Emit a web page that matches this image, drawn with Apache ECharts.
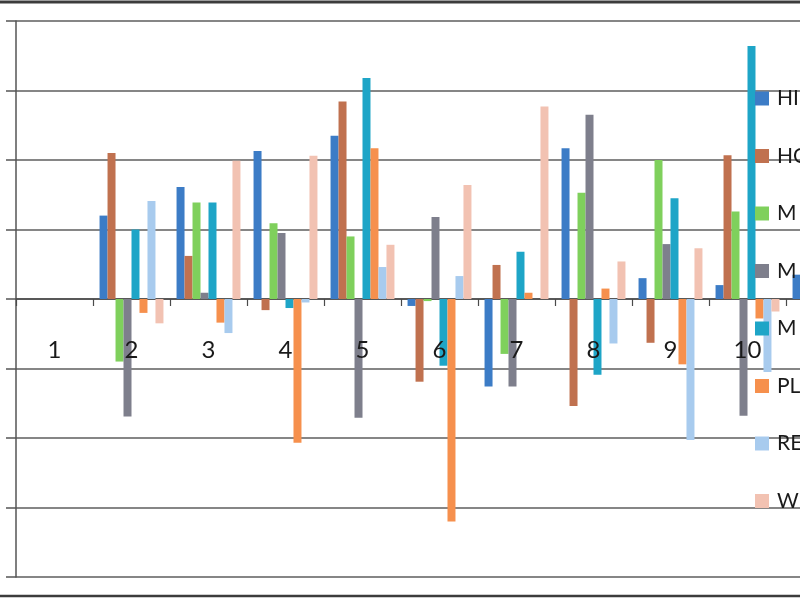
<!DOCTYPE html>
<html>
<head>
<meta charset="utf-8">
<script src="https://cdn.jsdelivr.net/npm/echarts@6/dist/echarts.min.js"></script>
<style>
html,body{margin:0;padding:0;background:#fff;}
#chart{width:800px;height:600px;}
</style>
</head>
<body>
<div id="chart"></div>
<script>
// Categories (11th is mostly outside the visible crop)
const categories = ['1','2','3','4','5','6','7','8','9','10','11'];
// Series names as visible (truncated) in legend; trailing spaces keep the M's distinct
const seriesNames = ['HI','HO','M','M ','M  ','PL','RE','W'];
// Values (units of one gridline)
const HI = [0, 1.2, 1.61, 2.13, 2.35, -0.1, -1.26, 2.17, 0.3, 0.2, 0.35];
const HO = [0, 2.1, 0.62, -0.16, 2.84, -1.19, 0.49, -1.54, -0.63, 2.07, 0];
const M1 = [0, -0.9, 1.39, 1.09, 0.9, -0.03, -0.79, 1.53, 2.0, 1.26, 0];
const M2 = [0, -1.69, 0.09, 0.95, -1.71, 1.18, -1.26, 2.65, 0.79, -1.68, 0];
const M3 = [0, 1.0, 1.39, -0.13, 3.18, -0.96, 0.68, -1.09, 1.45, 3.64, 0];
const PL = [0, -0.2, -0.34, -2.07, 2.17, -3.2, 0.09, 0.15, -0.94, -0.28, 0];
const RE = [0, 1.41, -0.49, -0.05, 0.46, 0.33, 0, -0.64, -2.03, -1.05, 0];
const W  = [0, -0.35, 1.99, 2.06, 0.78, 1.64, 2.77, 0.54, 0.73, -0.18, 0];
const seriesData = [HI, HO, M1, M2, M3, PL, RE, W];
const colors = ['#3c7cc6','#c0714f','#7fd05c','#7e7f8c','#1ea5c7','#f6904d','#a8cbee','#f2c2b2'];
const FONT = 'Lato, "Open Sans", sans-serif';

const chart = echarts.init(document.getElementById('chart'), null, {renderer:'canvas'});
chart.setOption({
  animation: false,
  backgroundColor: '#ffffff',
  color: colors,
  grid: [
    { left: 16, top: 21, width: 847, height: 556, containLabel: false, outerBoundsMode: 'none' },
    // upper half grid, used only to place the category labels under the zero line
    { left: 16, top: 21, width: 847, height: 278, containLabel: false, outerBoundsMode: 'none' }
  ],
  legend: {
    orient: 'vertical',
    left: 750,
    top: 83,
    itemWidth: 14,
    itemHeight: 14,
    itemGap: 36.5,
    icon: 'rect',
    selectedMode: false,
    data: seriesNames,
    textStyle: { fontSize: 21, lineHeight: 21, color: '#1a1a1a', fontFamily: FONT, padding: [0, 0, 0, 3] }
  },
  xAxis: [
    {
      type: 'category',
      gridIndex: 0,
      data: categories,
      axisLine: { onZero: true, lineStyle: { color: '#4a4a4a', width: 1.5 } },
      axisTick: { show: true, length: 7, lineStyle: { color: '#4a4a4a', width: 1.2 } },
      axisLabel: { show: false },
      splitLine: { show: false }
    },
    {
      type: 'category',
      gridIndex: 1,
      z: 10,
      data: categories,
      axisLine: { show: false },
      axisTick: { show: false },
      axisLabel: { margin: 39, fontSize: 24, color: '#1a1a1a', fontFamily: FONT },
      splitLine: { show: false }
    }
  ],
  yAxis: [
    {
      type: 'value',
      gridIndex: 0,
      min: -4, max: 4, interval: 1,
      axisLine: { show: true, lineStyle: { color: '#555', width: 1.5 } },
      axisTick: { show: true, length: 10, lineStyle: { color: '#555', width: 1.5 } },
      axisLabel: { show: false },
      splitLine: { show: true, lineStyle: { color: '#5e5e5e', width: 1.5 } }
    },
    {
      type: 'value',
      gridIndex: 1,
      min: 0, max: 4, interval: 1,
      show: false
    }
  ],
  series: seriesNames.map((n, i) => ({
    name: n,
    type: 'bar',
    xAxisIndex: 0,
    yAxisIndex: 0,
    data: seriesData[i],
    barGap: '0%',
    barCategoryGap: '17%',
    itemStyle: { color: colors[i] }
  })),
  graphic: [
    { type: 'line', shape: { x1: 0, y1: 2, x2: 800, y2: 2 }, style: { stroke: '#3c3c3c', lineWidth: 3 } },
    { type: 'line', shape: { x1: 0, y1: 596, x2: 800, y2: 596 }, style: { stroke: '#3c3c3c', lineWidth: 2.5 } }
  ]
});
</script>
</body>
</html>
